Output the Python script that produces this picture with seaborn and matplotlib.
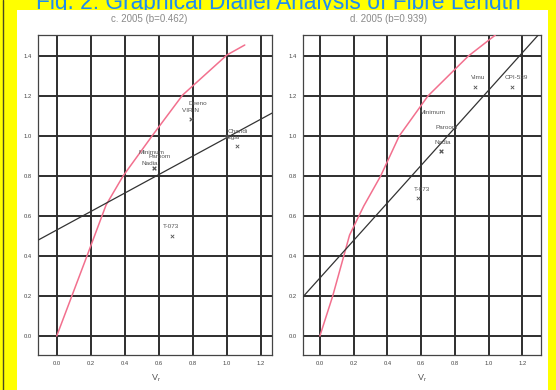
import matplotlib
matplotlib.use("Agg")
import matplotlib.pyplot as plt
from matplotlib.patches import Rectangle
from matplotlib.lines import Line2D
from matplotlib.ticker import MultipleLocator, FormatStrFormatter
import numpy as np
import pandas as pd
import seaborn as sns

# ---- data -------------------------------------------------------------
title = "Fig. 2: Graphical Diallel Analysis of Fibre Length"
panel_titles = ["c. 2005 (b=0.462)", "d. 2005 (b=0.939)"]
slopes = [0.462, 0.939]
intercepts = [0.53, 0.29]

# limiting parabola traced as Wr against Vr
c_parab_vr = [0.0, 0.18, 0.29, 0.39, 0.56, 0.74, 1.0, 1.105]
c_parab_wr = [0.0, 0.405, 0.655, 0.80, 1.0, 1.205, 1.405, 1.455]
d_parab_vr = [0.0, 0.076, 0.176, 0.26, 0.36, 0.47, 0.64, 0.88, 1.04]
d_parab_wr = [0.0, 0.2, 0.505, 0.65, 0.8, 1.0, 1.2, 1.4, 1.505]

# parental array points
c_names = ["Deeno", "VIR N", "Chandi", "Sagar", "Minimum", "Paroom", "Nadia", "T-073"]
c_vr = [0.79, 0.79, 1.0, 1.06, 0.57, 0.57, 0.57, 0.68]
c_wr = [1.085, 1.085, 1.0, 0.95, 0.84, 0.84, 0.84, 0.50]
d_names = ["Vimu", "CPI-539", "Minimum", "Paroom", "Nadia", "T-073"]
d_vr = [0.92, 1.14, 0.72, 0.72, 0.72, 0.58]
d_wr = [1.245, 1.245, 0.925, 0.925, 0.925, 0.69]

# label offsets (points) from each marker
c_offsets = [(5, 11.5), (-0.7, 5.8), (8, 3), (-3.6, 5.8), (-1.4, 11.5), (4.3, 8), (-3, 3), (-0.7, 7.2)]
d_offsets = [(1.8, 6.5), (3, 6.5), (-6.5, 28), (3.6, 17), (0.7, 5.8), (3, 5.8)]

x_limits = [(-0.11, 1.265), (-0.10, 1.31)]
y_limits = (-0.095, 1.505)

# ---- figure -----------------------------------------------------------
sns.set_style("white")
plt.rcParams["font.family"] = ["Liberation Sans", "DejaVu Sans"]

W, H = 556, 390
fig = plt.figure(figsize=(W / 100, H / 100), dpi=100, facecolor="#ffff00")

def fx(px):
    return px / W

def fy(py):
    return 1 - py / H

# title sits behind the white sheet, so only its upper part shows
fig.text(0.5, fy(9.3), title, ha="center", va="baseline", fontsize=16.4,
         color="#1e8cf0", zorder=-3)
fig.add_artist(Rectangle((fx(17), 0), fx(548) - fx(17), fy(10), transform=fig.transFigure,
                         facecolor="white", edgecolor="none", zorder=-2))
fig.add_artist(Line2D([fx(3), fx(3)], [0, 1], transform=fig.transFigure,
                      color="#4a4a20", lw=1.0, zorder=-1))

axes_px = [(38, 272), (303, 541)]
top_px, bot_px = 35, 355
title_px = [149, 388]
xlabel_px = [156, 422]

pink = "#f2708e"
panels = [
    (c_parab_vr, c_parab_wr, c_names, c_vr, c_wr, c_offsets),
    (d_parab_vr, d_parab_wr, d_names, d_vr, d_wr, d_offsets),
]

for i, (pvr, pwr, names, vr, wr, offs) in enumerate(panels):
    l, r = axes_px[i]
    ax = fig.add_axes([fx(l), fy(bot_px), fx(r) - fx(l), fy(top_px) - fy(bot_px)])
    ax.set_facecolor("none")
    ax.set_xlim(*x_limits[i])
    ax.set_ylim(*y_limits)

    parab = pd.DataFrame({"Vr": pvr, "Wr": pwr})
    sns.lineplot(data=parab, x="Vr", y="Wr", ax=ax, color=pink, lw=1.1, zorder=3)

    xs = np.array(x_limits[i])
    reg = pd.DataFrame({"Vr": xs, "Wr": intercepts[i] + slopes[i] * xs})
    sns.lineplot(data=reg, x="Vr", y="Wr", ax=ax, color="#333333", lw=0.9, zorder=3)

    pts = pd.DataFrame({"Vr": vr, "Wr": wr, "name": names})
    sns.scatterplot(data=pts, x="Vr", y="Wr", ax=ax, marker="x", s=6,
                    color="#555555", linewidth=0.6, zorder=4)
    for name, x, y, (dx, dy) in zip(names, vr, wr, offs):
        ax.annotate(name, (x, y), xytext=(dx, dy), textcoords="offset points",
                    ha="center", va="center", fontsize=4.6, color="#555555")

    ax.xaxis.set_major_locator(MultipleLocator(0.2))
    ax.yaxis.set_major_locator(MultipleLocator(0.2))
    ax.xaxis.set_minor_locator(MultipleLocator(0.1))
    ax.yaxis.set_minor_locator(MultipleLocator(0.1))
    ax.xaxis.set_major_formatter(FormatStrFormatter("%.1f"))
    ax.yaxis.set_major_formatter(FormatStrFormatter("%.1f"))
    ax.grid(True, which="major", color="#2e2e2e", lw=1.4, zorder=1)
    ax.set_axisbelow(True)
    ax.tick_params(which="major", length=2, width=0.6, colors="#555555",
                   labelsize=4.2, labelcolor="#444444", pad=2.5)
    ax.tick_params(which="minor", length=1.5, width=0.5, colors="#999999")
    for s in ax.spines.values():
        s.set_color("#444444")
        s.set_linewidth(0.9)
    ax.set_xlabel("")
    ax.set_ylabel("")

    fig.text(fx(title_px[i]), fy(19.5), panel_titles[i], ha="center", va="center",
             fontsize=7, color="#8a8a8a")
    fig.text(fx(xlabel_px[i]), fy(378), r"V$_\mathregular{r}$", ha="center",
             va="center", fontsize=6.5, color="#555555")

fig.savefig("out.png", dpi=100, facecolor=fig.get_facecolor())
